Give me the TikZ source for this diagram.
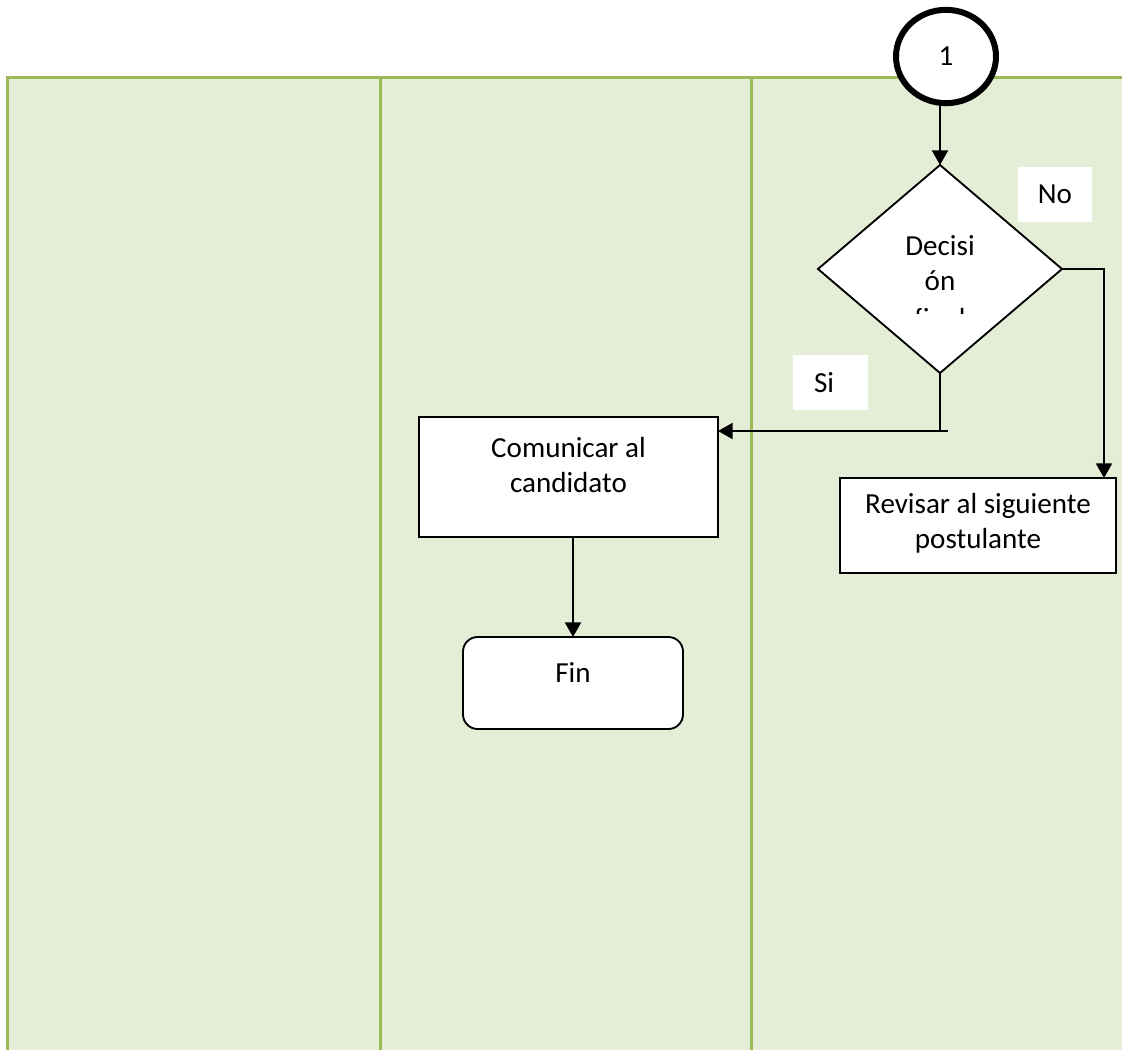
\documentclass[tikz,border=0pt]{standalone}
\usepackage{fontspec}
\setmainfont{Carlito}
\usetikzlibrary{arrows.meta,shapes.geometric}
\definecolor{laneFill}{HTML}{E4EDD5}
\definecolor{laneLine}{HTML}{9BBB59}
\begin{document}
\begin{tikzpicture}[x=0.75pt,y=-0.75pt,
  every node/.style={font=\fontsize{21.8pt}{26.5pt}\selectfont, inner sep=0pt, outer sep=0pt},
  box/.style={draw=black, fill=white, line width=1.4pt},
  link/.style={draw=black, line width=1.6pt},
  arr/.style={link, -{Triangle[length=11pt,width=12pt]}},
  tag/.style={fill=white, minimum width=55.5pt, minimum height=41.25pt},
  txt/.style={anchor=base}]
\useasboundingbox (0,0) rectangle (1122,1050);
% swimlanes
\fill[laneFill] (7.5,77.5) rectangle (1122,1050);
\draw[laneLine, line width=2.25pt] (7.5,1050) -- (7.5,77.5) -- (1122,77.5);
\draw[laneLine, line width=2pt] (380.5,77.5) -- (380.5,1050) (751.5,77.5) -- (751.5,1050);

% connector from the previous page
\node[box, ellipse, line width=4.5pt, minimum width=75pt, minimum height=70pt] (c1) at (946,56.5) {1};

% decision
\node[box, diamond, minimum width=183pt, minimum height=156pt] (dec) at (940,269) {};
\begin{scope}
  \clip (800,160) rectangle (1080,313);
  \node[txt] at (940,255) {Decisi};
  \node[txt] at (940,290) {ón};
  \node[txt] at (940,328) {final};
\end{scope}

% process boxes
\node[box, minimum width=224.25pt, minimum height=90pt] (com) at (568.5,477) {};
\node[txt] at (568.5,457) {Comunicar al};
\node[txt] at (568.5,492) {candidato};

\node[box, rounded corners=11pt, minimum width=165pt, minimum height=69pt] (fin) at (573,683) {};
\node[txt] at (573,682) {Fin};

\node[box, minimum width=207pt, minimum height=71.25pt] (rev) at (978,525.5) {};
\node[txt] at (978,513) {Revisar al siguiente};
\node[txt] at (978,548) {postulante};

% branch labels
\node[tag] (no) at (1055,194.5) {No};
\node[tag, minimum width=56.25pt] (si) at (830.5,382.5) {};
\node[anchor=base west] at (814,392) {Si};

% connectors
\draw[arr] (dec.north |- c1.south) -- (dec.north);
\coordinate (nobend) at (1104,269);
\draw[arr] (dec.east) -- (nobend) -- (nobend |- rev.north);
\coordinate (sibend) at (948,431);
\draw[link] (dec.south) |- (sibend);
\draw[arr] (sibend) -- (com.east |- sibend);
\draw[arr] (com.south -| fin.north) -- (fin.north);
\end{tikzpicture}
\end{document}
